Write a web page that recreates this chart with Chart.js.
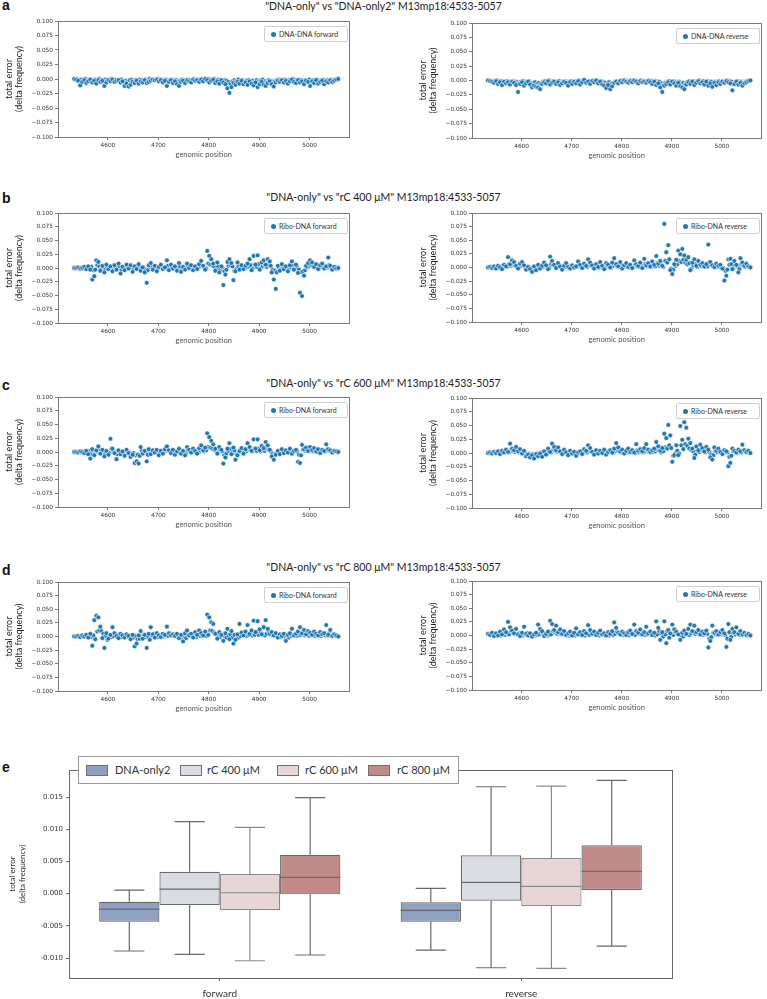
<!DOCTYPE html>
<html>
<head>
<meta charset="utf-8">
<script src="https://cdn.jsdelivr.net/npm/chart.js@4.4.1/dist/chart.umd.min.js"></script>
<style>
  body { margin: 0; width: 767px; height: 999px; position: relative; background: #fff; overflow: hidden; font-family: Lato, sans-serif; }
  canvas { position: absolute; }
  .panel { position: absolute; left: 2px; font-family: "Liberation Sans", sans-serif; font-weight: bold; font-size: 14px; line-height: 14px; color: #111; }
  .title { position: absolute; left: 0; width: 767px; text-align: center; font-size: 10.5px; line-height: 13px; color: #222; }
  .leg { position: absolute; box-sizing: border-box; height: 16px; border: 1px solid #cfcfcf; border-radius: 2px; background: #fff; font-size: 7px; color: #333; z-index: 2; }
  .leg .dot { position: absolute; left: 6px; top: 5px; width: 5px; height: 5px; border-radius: 50%; background: #1f77b4; }
  .leg span { position: absolute; left: 14px; top: 3px; line-height: 8px; white-space: nowrap; }
  #boxLegend { position: absolute; left: 78px; top: 756px; width: 381px; height: 28px; box-sizing: border-box; border: 1px solid #9a9a9a; background: #fff; z-index: 2; font-size: 11px; color: #333; }
  #boxLegend .sw { position: absolute; top: 8px; width: 22px; height: 11px; border: 1px solid #707070; box-sizing: border-box; }
  #boxLegend span { position: absolute; top: 6px; line-height: 14px; white-space: nowrap; }
</style>
</head>
<body>
<div class="panel" style="top:-2px">a</div>
<div class="panel" style="top:191px">b</div>
<div class="panel" style="top:378px">c</div>
<div class="panel" style="top:563px">d</div>
<div class="panel" style="top:760px">e</div>
<div class="title" style="top:0px">"DNA-only" vs "DNA-only2" M13mp18:4533-5057</div>
<div class="title" style="top:191px">"DNA-only" vs "rC 400 μM" M13mp18:4533-5057</div>
<div class="title" style="top:377px">"DNA-only" vs "rC 600 μM" M13mp18:4533-5057</div>
<div class="title" style="top:561px">"DNA-only" vs "rC 800 μM" M13mp18:4533-5057</div>
<div id="boxLegend"></div>
<script>
// genomic positions, two interleaved sets of M13mp18:4533-5057
const positionsA = [];   // 4533, 4537, ... 5057
for (let p = 4533; p <= 5057; p += 4) positionsA.push(p);
const positionsB = [];   // 4535, 4539, ... 5055
for (let p = 4535; p <= 5055; p += 4) positionsB.push(p);

// total error values, in units of 0.001 (delta frequency)
// ...A arrays go with positionsA, ...B arrays with positionsB
const aForwardA = [0,-1,-3,-11,-5,-2,-7,-4,-1,-6,-3,-8,-2,-5,-3,-12,-6,-2,-4,-1,-5,-3,
  -2,-6,-4,-12,-8,-13,-10,-5,-7,-3,-8,-4,-6,-2,-7,-5,-3,-1,-2,-1,-4,-2,
  -6,-3,-12,-5,-2,-7,-4,-9,-12,-5,-3,-7,-2,-4,-6,-1,-3,-2,-5,-1,-4,0,
  -2,-6,-3,-1,-7,-4,-8,-2,-6,-9,-16,-24,-14,-7,-10,-5,-8,-3,-9,-6,-10,-4,
  -8,-11,-6,-14,-9,-5,-10,-12,-7,-4,-9,-13,-6,-3,-5,-2,-6,-3,-8,-4,-1,-5,
  -7,-2,-6,-4,-9,-3,-5,-12,-4,-7,-2,-8,-5,-3,-9,-4,-6,-2,-5,-3,-1,0];
const aForwardB = [-1,0,-2,-1,-3,0,-2,-1,-4,-2,-1,-3,0,-2,-4,-1,-3,-2,0,-2,-1,-3,
  -2,-1,-4,-3,-5,-2,-1,-3,-2,-4,-1,-2,-3,-1,-2,0,-1,-2,-1,0,-2,-1,
  -3,-1,-4,-2,-1,-3,-2,-5,-3,-1,-2,-4,-1,-2,-3,0,-1,-2,-1,0,-2,-1,
  0,-1,-2,0,-3,-1,-2,-4,-2,-3,-5,-8,-4,-2,-3,-1,-4,-2,-5,-3,-2,-4,
  -3,-5,-2,-4,-3,-1,-4,-6,-2,-3,-5,-4,-2,-1,-3,-2,-1,-3,-2,-4,0,-2,
  -3,-1,-2,-4,-2,-3,-1,-5,-2,-3,-1,-4,-2,-1,-3,-2,-4,-1,-2,-1,0];
const aReverseA = [0,-1,-2,-4,-1,-6,-3,-8,-2,-5,-3,-7,-2,-4,-8,-20,-6,-3,-9,-5,-2,-7,
  -12,-9,-11,-12,-15,-6,-3,-5,-1,-7,-4,-2,-6,-3,-8,-5,-2,-4,-9,-3,-6,-2,
  -5,-1,-7,-3,1,-4,-2,-6,-1,-3,0,-5,-2,-7,-9,-13,-8,-15,-10,-4,-2,-5,
  -1,-3,0,-2,-4,-1,-3,0,-2,-5,-1,-3,-2,-4,-1,-3,-6,-2,-8,-5,-12,-20,
  -9,-6,-3,-7,-2,-5,-9,-4,-10,-12,-15,-7,-3,-6,-2,-8,-4,-1,-5,-3,-7,-2,
  -9,-5,-11,-4,-8,-3,-6,-2,-4,-1,-3,-5,-17,-6,-2,-7,-4,-9,-5,-3,-1,0];
const aReverseB = [0,-1,-1,-2,0,-3,-1,-2,-4,-1,-2,-3,-1,-2,-3,-5,-2,-1,-3,-2,-1,-4,
  -5,-3,-6,-4,-5,-2,-1,-3,0,-2,-1,-3,-2,-1,-4,-2,-1,-2,-3,-1,-2,-1,
  -2,0,-3,-1,0,-2,-1,-3,0,-1,0,-2,-1,-3,-4,-6,-3,-5,-4,-2,-1,-2,
  0,-1,0,-1,-2,0,-1,0,-1,-2,0,-1,-1,-2,0,-1,-3,-1,-4,-2,-5,-8,
  -4,-2,-1,-3,-1,-2,-4,-2,-5,-4,-6,-3,-1,-2,-1,-3,-2,0,-2,-1,-3,-1,
  -4,-2,-5,-2,-3,-1,-2,-1,-2,0,-1,-2,-6,-3,-1,-3,-2,-4,-2,-1,0];
const bForwardA = [0,0,1,-1,0,2,-2,3,-3,-21,-15,14,11,-5,4,-8,6,-2,3,-6,5,-3,
  8,-10,2,-4,6,-1,5,-7,3,-2,7,-5,1,-8,-27,5,9,-3,4,-6,2,6,
  -2,1,14,-4,6,-1,3,-5,9,-7,2,-3,8,0,5,-4,3,-2,7,13,4,-3,
  31,22,16,8,-5,10,-8,3,-31,-12,11,16,9,-22,-6,10,-3,5,-2,4,8,16,
  -4,22,6,23,-3,10,14,6,16,12,-8,-21,-38,4,-5,7,-2,3,-6,5,12,-3,
  6,-9,-45,-51,-14,4,9,14,10,2,7,-2,5,8,-1,3,19,4,-3,2,-1,0];
const bForwardB = [0,0,0,1,-1,0,1,-1,2,-4,-3,5,3,-1,2,-3,1,0,2,-2,1,-1,
  3,-3,1,-1,2,0,1,-2,2,-1,3,-2,0,-3,-4,2,3,-1,1,-2,1,2,
  -1,0,4,-2,2,0,1,-2,3,-3,1,-1,3,0,2,-1,1,-1,3,4,1,-1,
  8,6,5,2,-2,3,-3,1,-6,-3,4,5,3,-5,-2,3,-1,2,-1,1,3,5,
  -1,6,2,7,-1,3,5,2,6,4,-3,-5,-8,1,-2,3,-1,1,-2,2,4,-1,
  2,-3,-8,-6,-4,1,3,5,3,1,2,-1,2,3,0,1,5,1,-1,1,0];
const bReverseA = [0,1,-1,2,-2,3,0,-3,5,2,19,6,13,10,3,-2,7,10,4,-4,1,-3,
  -8,2,-5,5,-2,3,9,4,-3,20,12,5,-1,8,2,-4,3,8,1,-2,4,0,
  2,11,5,-1,7,3,15,9,4,-2,6,1,10,3,-3,8,5,0,9,17,6,2,
  10,-2,4,8,1,5,-1,13,6,3,9,-1,16,4,8,2,11,5,21,7,12,3,
  80,28,41,-5,-12,6,14,31,24,34,22,14,19,-5,9,15,3,12,5,8,2,6,
  42,10,4,1,7,3,5,-2,-24,-15,15,16,-3,12,5,-9,17,9,3,7,2,0];
const bReverseB = [0,0,1,-1,1,0,2,-1,2,1,6,3,5,4,1,0,3,4,2,-1,0,-1,
  -3,1,-2,2,0,1,3,2,-1,6,4,2,0,3,1,-1,1,3,0,-1,2,0,
  1,4,2,0,3,1,5,3,2,-1,2,0,4,1,-1,3,2,0,3,6,2,1,
  4,0,2,3,0,2,0,5,2,1,3,0,6,2,3,1,4,2,8,3,5,1,
  12,9,15,-2,-4,3,6,12,10,14,9,6,8,-2,4,6,1,5,2,3,1,2,
  10,4,2,0,3,1,2,-1,-6,-4,5,6,-1,4,2,-3,6,3,1,3,1];
const cForwardA = [0,0,-1,1,0,-2,2,-4,-12,5,-6,3,10,-3,4,-8,2,-5,24,6,-2,-13,
  3,-4,1,-7,4,-2,-9,-5,-20,-17,-21,9,-3,2,-17,5,-4,3,-1,4,-6,2,
  -3,5,10,3,-2,4,-5,1,6,-3,2,-6,9,4,-1,6,2,-3,7,12,3,8,
  34,27,20,14,6,-3,9,4,-21,-10,6,16,-4,8,-14,-6,2,7,-3,5,16,9,
  2,23,6,23,3,11,7,18,12,4,-8,-14,-5,2,-4,5,-2,3,-1,6,-3,2,
  4,-18,-20,13,5,8,2,9,4,7,1,5,-2,4,2,14,5,3,-1,2,1,0];
const cForwardB = [0,0,0,-1,1,0,-1,1,-3,2,-2,1,3,-1,1,-3,1,-2,6,2,-1,-4,
  1,-2,0,-2,1,-1,-3,-2,-6,-5,-7,3,-1,1,-5,2,-1,1,0,1,-2,1,
  -1,2,3,1,-1,1,-2,0,2,-1,1,-2,3,1,0,2,1,-1,2,4,1,3,
  9,8,6,4,2,-1,3,1,-6,-3,2,5,-1,3,-4,-2,1,2,-1,2,5,3,
  1,6,2,6,1,4,2,5,4,1,-3,-4,-2,1,-1,2,-1,1,0,2,-1,1,
  1,-5,-6,4,2,3,1,3,1,2,0,2,-1,1,1,4,2,1,0,1,0];
const cReverseA = [0,1,-1,2,0,3,-2,4,1,6,2,17,8,5,11,3,7,-1,4,-6,-3,-8,
  -4,-10,-2,-6,-1,-7,3,-3,8,2,17,11,5,10,3,-2,6,1,-4,4,-1,2,
  -5,1,3,-2,7,4,14,9,2,-3,5,-1,4,0,6,-3,2,5,1,8,18,10,
  3,6,-1,4,8,2,5,1,16,4,7,3,9,16,6,2,5,8,20,12,4,9,
  35,27,51,32,-16,-4,14,-4,49,24,56,46,26,18,8,-9,12,5,15,9,3,11,
  6,-8,-12,10,4,8,2,-2,5,3,-24,-18,8,4,1,6,3,15,5,2,4,0];
const cReverseB = [0,0,1,0,1,1,0,2,1,2,1,5,3,2,4,1,2,0,1,-2,-1,-3,
  -2,-3,-1,-2,0,-3,1,-1,3,1,5,4,2,3,1,-1,2,0,-1,1,0,1,
  -2,0,1,-1,2,1,4,3,1,-1,2,0,1,0,2,-1,1,2,0,3,5,3,
  1,2,0,1,3,1,2,0,5,1,2,1,3,5,2,1,2,3,6,4,1,3,
  10,8,14,9,-5,-1,4,-1,14,7,16,13,8,5,3,-3,4,2,5,3,1,4,
  2,-3,-4,3,1,3,1,-1,2,1,-7,-5,3,1,0,2,1,5,2,1,1];
const dForwardA = [0,0,1,-1,2,0,3,-2,5,-17,30,38,35,18,-3,-21,6,-4,3,17,6,1,
  -3,5,2,-2,4,1,-5,3,-18,-13,2,10,-4,3,-21,5,17,4,-2,6,2,-1,
  5,3,18,6,2,4,1,5,-3,3,-9,6,11,2,5,-2,8,3,11,6,2,9,
  40,35,26,23,5,-4,8,3,-8,6,14,-5,10,-13,-6,4,23,7,2,9,21,5,
  11,29,8,28,13,4,17,30,14,5,8,2,6,-2,4,1,5,-8,3,6,14,2,
  5,9,17,6,12,4,10,7,3,9,5,2,8,4,6,21,3,12,1,4,2,0];
const dForwardB = [0,0,0,1,0,1,0,1,-1,2,-5,9,11,10,5,1,-6,2,-1,1,5,2,
  0,-1,2,1,0,1,1,-2,1,-5,-4,1,3,-1,1,-6,2,5,1,-1,2,1,
  0,2,1,5,2,1,1,0,2,-1,1,-3,2,3,1,2,-1,3,1,3,2,1,
  3,11,10,7,4,2,-1,3,1,-2,2,4,-2,3,-4,-2,1,7,2,1,3,6,
  2,3,9,3,8,4,2,5,9,4,2,3,1,2,-1,1,0,2,-2,1,2,4,
  1,2,3,5,2,4,1,3,2,1,3,2,1,3,2,2,6,1,4,1,1];
const dReverseA = [3,1,5,-1,4,0,7,2,11,6,25,15,9,4,12,2,-1,5,16,3,0,4,
  -2,2,5,20,12,8,-1,3,7,27,21,10,18,6,11,3,8,1,4,7,0,5,
  13,2,6,1,8,4,19,10,3,7,1,5,9,2,4,0,6,3,8,24,14,5,
  2,7,4,1,6,9,3,20,8,5,11,2,6,16,4,7,1,5,26,14,-8,6,
  26,-14,10,4,20,11,7,2,-8,5,9,3,12,20,8,18,6,10,2,7,4,9,
  -22,-10,18,5,8,2,6,10,4,-21,21,-8,12,6,15,3,8,2,5,1,3,0];
const dReverseB = [2,1,2,1,1,2,0,3,1,4,2,8,5,3,2,4,1,0,2,5,1,0,
  1,0,1,2,6,4,3,0,1,2,8,6,3,5,2,4,1,3,0,1,2,0,
  2,4,1,2,0,3,1,6,3,1,2,0,2,3,1,1,0,2,1,3,7,4,
  2,1,2,1,0,2,3,1,6,3,2,4,1,2,5,1,2,0,2,8,4,-2,
  2,8,-4,3,1,6,4,2,0,-2,2,3,1,4,6,3,5,2,3,1,2,3,
  -6,-3,5,2,3,1,2,3,1,-6,6,-2,4,2,4,1,3,1,2,0,1];

const xTicks = [4600, 4700, 4800, 4900, 5000];
const yTicks = [-0.1, -0.075, -0.05, -0.025, 0, 0.025, 0.05, 0.075, 0.1];

// box plot (panel e): one row per series, [forward, reverse]
const boxCats = ['forward', 'reverse'];
const boxNames = ['DNA-only2', 'rC 400 μM', 'rC 600 μM', 'rC 800 μM'];
const whiskerLow = [[-0.00891, -0.00876], [-0.00943, -0.01151], [-0.01042, -0.01160], [-0.00953, -0.00814]];
const q1Values = [[-0.00436, -0.00436], [-0.00177, -0.00110], [-0.00259, -0.00193], [-0.00011, 0.00056]];
const medianValues = [[-0.00239, -0.00259], [0.00071, 0.00175], [0.00014, 0.00113], [0.00253, 0.00346]];
const q3Values = [[-0.00126, -0.00135], [0.00340, 0.00595], [0.00304, 0.00553], [0.00604, 0.00750]];
const whiskerHigh = [[0.00056, 0.00082], [0.01117, 0.01660], [0.01030, 0.01670], [0.01490, 0.01760]];
const boxTicks = [-0.01, -0.005, 0, 0.005, 0.01, 0.015];

const boxColors = ['#8ea1c2', '#d9dce3', '#e8d5d5', '#c08a87'];
const boxLines = ['#666666', '#6a6a6a', '#8a8a8a', '#6a6a6a'];

/* outline around the plotting area */
const frame = {
  id: 'frame',
  afterDraw(chart, args, opts) {
    const a = chart.chartArea, ctx = chart.ctx;
    ctx.save();
    ctx.strokeStyle = opts.color || '#777';
    ctx.lineWidth = 1;
    ctx.strokeRect(Math.round(a.left) + 0.5, Math.round(a.top) + 0.5,
      Math.round(a.right - a.left), Math.round(a.bottom - a.top));
    ctx.restore();
  }
};

function fmtMinus(v) {
  return (v < 0 ? '\u2212' : '') + Math.abs(v).toFixed(3);
}

function scatterPanel(valuesA, valuesB, label, L, T, R, B) {
  var padTop = 6, padRight = 4, yW = 58, xH = 22;
  var cv = document.createElement('canvas');
  cv.width = R - L + yW + padRight;
  cv.height = B - T + padTop + xH;
  cv.style.left = (L - yW) + 'px';
  cv.style.top = (T - padTop) + 'px';
  document.body.appendChild(cv);

  var pts = valuesB.map((v, i) => ({ x: positionsB[i], y: v / 1000 }))
    .concat(valuesA.map((v, i) => ({ x: positionsA[i], y: v / 1000 })));

  new Chart(cv, {
    type: 'scatter',
    data: {
      datasets: [{
        label: label,
        data: pts,
        backgroundColor: '#1f77b4',
        borderColor: '#ffffff',
        borderWidth: 0.6,
        pointRadius: 2.4,
      }],
    },
    options: {
      responsive: false,
      animation: false,
      devicePixelRatio: 1,
      layout: { padding: { top: padTop, right: padRight, left: 0, bottom: 0 } },
      plugins: { legend: { display: false }, tooltip: { enabled: false }, frame: { color: '#7a7a7a' } },
      scales: {
        x: {
          type: 'linear', min: 4501, max: 5079,
          afterBuildTicks: s => { s.ticks = xTicks.map(v => ({ value: v })); },
          afterFit: s => { s.height = xH; },
          grid: { drawOnChartArea: false, tickLength: 3, color: '#7a7a7a' },
          border: { display: false },
          ticks: { font: { family: 'DejaVu Sans', size: 5.8 }, color: '#333', padding: 2, maxRotation: 0, autoSkip: false, callback: v => String(v) },
          title: { display: true, text: 'genomic position', font: { family: 'Lato', size: 7.5 }, color: '#555', padding: 0 },
        },
        y: {
          min: -0.1, max: 0.1,
          afterBuildTicks: s => { s.ticks = yTicks.map(v => ({ value: v })); },
          afterFit: s => { s.width = yW; },
          grid: { drawOnChartArea: false, tickLength: 3, color: '#7a7a7a' },
          border: { display: false },
          ticks: { font: { family: 'DejaVu Sans', size: 5.8 }, color: '#333', padding: 2, autoSkip: false, callback: v => fmtMinus(v) },
          title: { display: true, text: ['total error', '(delta frequency)'], font: { family: 'Lato', size: 9, lineHeight: 1.15 }, color: '#222', padding: { top: 4, bottom: 0 } },
        },
      },
    },
    plugins: [frame],
  });

  var leg = document.createElement('div');
  leg.className = 'leg';
  leg.style.width = '84px';
  leg.style.left = (R - 86) + 'px';
  leg.style.top = (T + 5) + 'px';
  leg.innerHTML = '<div class="dot"></div><span></span>';
  leg.querySelector('span').textContent = label;
  document.body.appendChild(leg);
}

scatterPanel(aForwardA, aForwardB, 'DNA-DNA forward', 58, 21, 350, 137);
scatterPanel(aReverseA, aReverseB, 'DNA-DNA reverse', 472, 23, 762, 138);
scatterPanel(bForwardA, bForwardB, 'Ribo-DNA forward', 58, 213, 350, 323);
scatterPanel(bReverseA, bReverseB, 'Ribo-DNA reverse', 472, 213, 762, 322);
scatterPanel(cForwardA, cForwardB, 'Ribo-DNA forward', 58, 397, 350, 507);
scatterPanel(cReverseA, cReverseB, 'Ribo-DNA reverse', 472, 398, 762, 508);
scatterPanel(dForwardA, dForwardB, 'Ribo-DNA forward', 58, 582, 350, 691);
scatterPanel(dReverseA, dReverseB, 'Ribo-DNA reverse', 472, 581, 762, 690);

/* Panel e: box plot, boxes are floating bars, whiskers and medians drawn on the y scale */
const whiskers = {
  id: 'whiskers',
  afterDatasetsDraw(chart) {
    const ctx = chart.ctx, y = chart.scales.y;
    ctx.save();
    ctx.lineWidth = 1.2;
    chart.data.datasets.forEach((ds, k) => {
      ctx.strokeStyle = boxLines[k];
      chart.getDatasetMeta(k).data.forEach((bar, j) => {
        const x = bar.x, half = bar.width / 2;
        const lo = y.getPixelForValue(whiskerLow[k][j]);
        const hi = y.getPixelForValue(whiskerHigh[k][j]);
        const b1 = y.getPixelForValue(q1Values[k][j]);
        const b3 = y.getPixelForValue(q3Values[k][j]);
        const md = y.getPixelForValue(medianValues[k][j]);
        ctx.beginPath();
        ctx.moveTo(x, b1); ctx.lineTo(x, lo);
        ctx.moveTo(x, b3); ctx.lineTo(x, hi);
        ctx.moveTo(x - half / 2, lo); ctx.lineTo(x + half / 2, lo);
        ctx.moveTo(x - half / 2, hi); ctx.lineTo(x + half / 2, hi);
        ctx.moveTo(x - half, md); ctx.lineTo(x + half, md);
        ctx.stroke();
      });
    });
    ctx.restore();
  }
};

var boxCanvas = document.createElement('canvas');
boxCanvas.width = 680;
boxCanvas.height = 239;
boxCanvas.style.left = '0px';
boxCanvas.style.top = '760px';
document.body.appendChild(boxCanvas);

new Chart(boxCanvas, {
  type: 'bar',
  data: {
    labels: boxCats,
    datasets: boxNames.map((name, k) => ({
      label: name,
      data: boxCats.map((c, j) => [q1Values[k][j], q3Values[k][j]]),
      backgroundColor: boxColors[k],
      borderColor: boxLines[k],
      borderWidth: 1.2,
      borderSkipped: false,
      barPercentage: 1,
      categoryPercentage: 0.8,
    })),
  },
  options: {
    responsive: false,
    animation: false,
    devicePixelRatio: 1,
    layout: { padding: { top: 10, right: 8, left: 0, bottom: 0 } },
    plugins: { legend: { display: false }, tooltip: { enabled: false }, frame: { color: '#666' } },
    scales: {
      x: {
        afterFit: s => { s.height = 21; },
        grid: { drawOnChartArea: false, tickLength: 3, color: '#666', offset: false },
        border: { display: false },
        ticks: { font: { family: 'Lato', size: 10 }, color: '#333', padding: 7 },
      },
      y: {
        min: -0.0131, max: 0.0192,
        afterBuildTicks: s => { s.ticks = boxTicks.map(v => ({ value: v })); },
        afterFit: s => { s.width = 69; },
        grid: { drawOnChartArea: false, tickLength: 3, color: '#666' },
        border: { display: false },
        ticks: { font: { family: 'DejaVu Sans', size: 7 }, color: '#333', padding: 3, autoSkip: false, callback: v => v.toFixed(3) },
        title: { display: true, text: ['total error', '(delta frequency)'], font: { family: 'Lato', size: 8, lineHeight: 1.25 }, color: '#333', padding: { top: 7, bottom: 0 } },
      },
    },
  },
  plugins: [frame, whiskers],
});

// legend for panel e
var legItems = [[86, 115], [180, 207], [277, 305], [368, 397]];
var boxLegend = document.getElementById('boxLegend');
boxNames.forEach((name, k) => {
  var sw = document.createElement('div');
  sw.className = 'sw';
  sw.style.left = (legItems[k][0] - 79) + 'px';
  sw.style.background = boxColors[k];
  boxLegend.appendChild(sw);
  var t = document.createElement('span');
  t.style.left = (legItems[k][1] - 79) + 'px';
  t.textContent = name;
  boxLegend.appendChild(t);
});
</script>
</body>
</html>
